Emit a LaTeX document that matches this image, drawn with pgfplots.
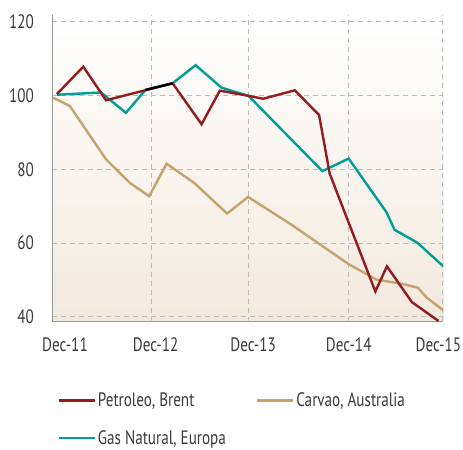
\documentclass[border=0pt]{standalone}
\usepackage{pgfplots}
\pgfplotsset{compat=1.18}
\usepackage{fontspec}
\setmainfont{PT Sans}[FakeStretch=0.78]
\definecolor{petro}{HTML}{951B1E}
\definecolor{carv}{HTML}{C6A36C}
\definecolor{gasn}{HTML}{009E94}
\definecolor{bgbot}{HTML}{F2E9DE}
\definecolor{txt}{HTML}{3A3A3A}
\definecolor{gridc}{HTML}{BBBBBB}
\definecolor{axc}{HTML}{999999}
\begin{document}
\begin{tikzpicture}
\path[use as bounding box] (-52.3bp,-128.3bp) rectangle (410.7bp,321.7bp);
\begin{axis}[
  scale only axis,
  width=391bp, height=306.7bp,
  xmin=0, xmax=4.01,
  ymin=38.7, ymax=121.8,
  axis x line*=bottom, axis y line*=left,
  axis line style={axc, line width=1.2bp, -},
  axis background/.style={top color=white, bottom color=bgbot},
  ytick={40,60,80,100,120},
  ymajorgrids,
  grid style={gridc, dashed, line width=0.9bp, dash pattern=on 5bp off 4bp},
  xtick={0.13,1.06,2.06,3.04,3.96},
  xticklabels={Dec-11,Dec-12,Dec-13,Dec-14,Dec-15},
  extra x ticks={1.018,2.012,3.04,4.0},
  extra x tick labels={},
  extra x tick style={grid=major, major tick length=0pt},
  major tick length=0pt,
  tick label style={font=\fontsize{19.5}{20}\selectfont, text=txt},
  yticklabel style={xshift=-15bp},
  xticklabel style={yshift=-12bp},
  /pgf/number format/assume math mode=true,
  legend columns=2,
  legend style={at={(axis description cs:0,0)}, anchor=north west,
    xshift=5bp, yshift=-69bp, draw=none, fill=none, inner sep=0pt,
    font=\fontsize{19.5}{20}\selectfont, text=txt,
    /tikz/every even column/.append style={column sep=28bp},
    row sep=18bp},
  legend cell align=left,
  legend image code/.code={\draw[#1, line width=2.4bp] (0bp,0bp) -- (36bp,0bp);},
]
\addlegendimage{petro}
\addlegendentry{Petroleo, Brent}
\addlegendimage{carv}
\addlegendentry{Carvao, Australia}
\addlegendimage{gasn}
\addlegendentry{Gas Natural, Europa}

\addplot[carv, line width=2.4bp, forget plot] coordinates {
(0.01,99.4) (0.181,97.1) (0.551,82.7) (0.796,76.3) (0.994,72.7) (1.172,81.5)
(1.455,76.3) (1.793,68.0) (2.008,72.5) (2.435,65.3) (3.033,54.4) (3.324,50.1)
(3.58,49.0) (3.75,47.9) (3.836,45.3) (4.01,41.8)};

\addplot[gasn, line width=2.4bp, forget plot] coordinates {
(0.048,100.2) (0.499,100.8) (0.755,95.3) (0.956,101.5) (1.234,103.3) (1.47,108.2)
(1.736,102.1) (2.012,99.9) (2.77,79.5) (3.04,82.9) (3.426,68.4) (3.511,63.6)
(3.744,60.1) (4.006,53.8)};

\addplot[petro, line width=2.4bp, forget plot] coordinates {
(0.048,100.4) (0.318,107.8) (0.551,98.7) (1.234,103.3) (1.531,92.2) (1.718,101.3)
(2.012,99.9) (2.162,99.1) (2.487,101.4) (2.736,94.7) (2.845,78.8) (3.313,46.9)
(3.432,53.7) (3.688,44.0) (3.961,38.9)};

\addplot[black, line width=2.4bp, forget plot] coordinates {
(0.956,101.5) (1.234,103.3)};
\end{axis}
\end{tikzpicture}
\end{document}
